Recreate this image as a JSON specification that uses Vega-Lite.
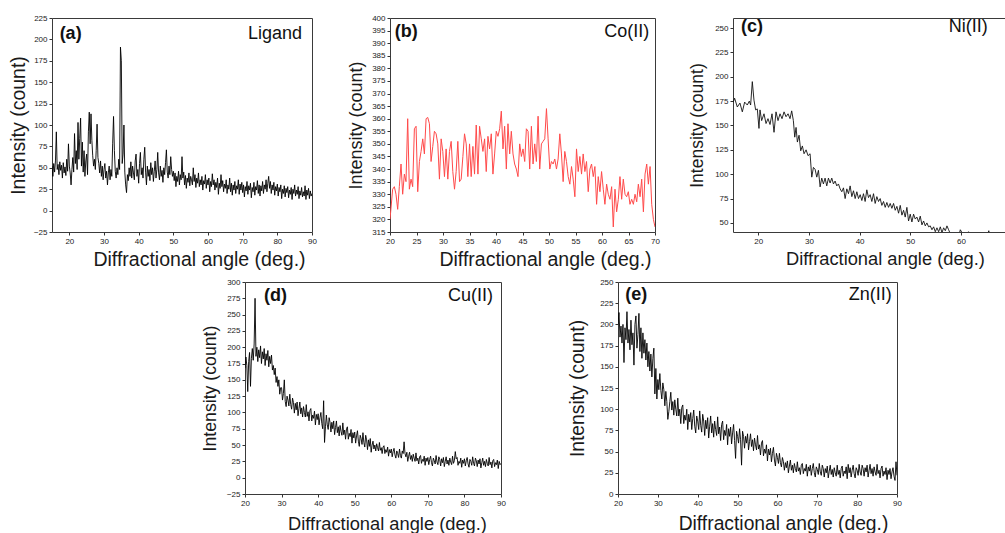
{
"$schema":"https://vega.github.io/schema/vega-lite/v6.json",
"background":"white",
"padding":{"left":7,"top":13,"right":0,"bottom":0},
"spacing":8,
"config":{
 "font":"Liberation Sans",
 "view":{"stroke":"#3a3a3a","strokeWidth":1},
 "axis":{"grid":false,"domain":false,"tickSize":3,"tickColor":"#333","tickWidth":1,"labelFontSize":8,"labelColor":"#222","labelPadding":2,"labelFlush":false,"labelOverlap":false,"labelBound":false,"titleFontWeight":"normal","titleColor":"#1a1a1a","titleFontSize":19},
 "axisX":{"titlePadding":5},
 "axisY":{"titlePadding":7},
 "text":{"fontSize":18,"color":"#111"}
},
"datasets":{
"ligand":[{"deg":15,"count":52},{"deg":15.25,"count":40},{"deg":15.5,"count":55},{"deg":15.75,"count":45},{"deg":16,"count":58},{"deg":16.25,"count":92},{"deg":16.5,"count":48},{"deg":16.75,"count":54},{"deg":17,"count":42},{"deg":17.25,"count":57},{"deg":17.5,"count":47},{"deg":17.75,"count":53},{"deg":18,"count":38},{"deg":18.25,"count":56},{"deg":18.5,"count":44},{"deg":18.75,"count":51},{"deg":19,"count":41},{"deg":19.25,"count":60},{"deg":19.5,"count":46},{"deg":19.75,"count":78},{"deg":20,"count":52},{"deg":20.25,"count":44},{"deg":20.5,"count":30},{"deg":20.75,"count":48},{"deg":21,"count":62},{"deg":21.25,"count":45},{"deg":21.5,"count":90},{"deg":21.75,"count":55},{"deg":22,"count":70},{"deg":22.25,"count":48},{"deg":22.5,"count":103},{"deg":22.75,"count":60},{"deg":23,"count":84},{"deg":23.25,"count":108},{"deg":23.5,"count":52},{"deg":23.75,"count":80},{"deg":24,"count":45},{"deg":24.25,"count":70},{"deg":24.5,"count":40},{"deg":24.75,"count":58},{"deg":25,"count":66},{"deg":25.25,"count":42},{"deg":25.5,"count":92},{"deg":25.75,"count":115},{"deg":26,"count":78},{"deg":26.25,"count":113},{"deg":26.5,"count":82},{"deg":26.75,"count":64},{"deg":27,"count":52},{"deg":27.25,"count":60},{"deg":27.5,"count":48},{"deg":27.75,"count":70},{"deg":28,"count":101},{"deg":28.25,"count":62},{"deg":28.5,"count":55},{"deg":28.75,"count":44},{"deg":29,"count":58},{"deg":29.25,"count":40},{"deg":29.5,"count":52},{"deg":29.75,"count":36},{"deg":30,"count":48},{"deg":30.25,"count":55},{"deg":30.5,"count":38},{"deg":30.75,"count":46},{"deg":31,"count":30},{"deg":31.25,"count":44},{"deg":31.5,"count":52},{"deg":31.75,"count":36},{"deg":32,"count":48},{"deg":32.25,"count":40},{"deg":32.5,"count":78},{"deg":32.75,"count":110},{"deg":33,"count":70},{"deg":33.25,"count":46},{"deg":33.5,"count":38},{"deg":33.75,"count":50},{"deg":34,"count":42},{"deg":34.25,"count":60},{"deg":34.5,"count":48},{"deg":34.75,"count":191},{"deg":35,"count":175},{"deg":35.25,"count":55},{"deg":35.5,"count":66},{"deg":35.75,"count":100},{"deg":36,"count":45},{"deg":36.25,"count":30},{"deg":36.5,"count":21},{"deg":36.75,"count":42},{"deg":37,"count":35},{"deg":37.25,"count":50},{"deg":37.5,"count":40},{"deg":37.75,"count":57},{"deg":38,"count":38},{"deg":38.25,"count":52},{"deg":38.5,"count":44},{"deg":38.75,"count":36},{"deg":39,"count":58},{"deg":39.25,"count":66},{"deg":39.5,"count":40},{"deg":39.75,"count":48},{"deg":40,"count":32},{"deg":40.25,"count":55},{"deg":40.5,"count":68},{"deg":40.75,"count":42},{"deg":41,"count":50},{"deg":41.25,"count":38},{"deg":41.5,"count":60},{"deg":41.75,"count":74},{"deg":42,"count":45},{"deg":42.25,"count":30},{"deg":42.5,"count":52},{"deg":42.75,"count":40},{"deg":43,"count":48},{"deg":43.25,"count":35},{"deg":43.5,"count":56},{"deg":43.75,"count":42},{"deg":44,"count":50},{"deg":44.25,"count":34},{"deg":44.5,"count":46},{"deg":44.75,"count":58},{"deg":45,"count":38},{"deg":45.25,"count":48},{"deg":45.5,"count":68},{"deg":45.75,"count":44},{"deg":46,"count":36},{"deg":46.25,"count":52},{"deg":46.5,"count":40},{"deg":46.75,"count":47},{"deg":47,"count":33},{"deg":47.25,"count":50},{"deg":47.5,"count":42},{"deg":47.75,"count":56},{"deg":48,"count":71},{"deg":48.25,"count":45},{"deg":48.5,"count":38},{"deg":48.75,"count":52},{"deg":49,"count":42},{"deg":49.25,"count":63},{"deg":49.5,"count":48},{"deg":49.75,"count":40},{"deg":50,"count":46},{"deg":50.25,"count":35},{"deg":50.5,"count":44},{"deg":50.75,"count":28},{"deg":51,"count":40},{"deg":51.25,"count":34},{"deg":51.5,"count":46},{"deg":51.75,"count":30},{"deg":52,"count":42},{"deg":52.25,"count":36},{"deg":52.5,"count":63},{"deg":52.75,"count":38},{"deg":53,"count":45},{"deg":53.25,"count":30},{"deg":53.5,"count":41},{"deg":53.75,"count":26},{"deg":54,"count":38},{"deg":54.25,"count":33},{"deg":54.5,"count":44},{"deg":54.75,"count":29},{"deg":55,"count":40},{"deg":55.25,"count":36},{"deg":55.5,"count":30},{"deg":55.75,"count":50},{"deg":56,"count":34},{"deg":56.25,"count":42},{"deg":56.5,"count":27},{"deg":56.75,"count":38},{"deg":57,"count":32},{"deg":57.25,"count":44},{"deg":57.5,"count":28},{"deg":57.75,"count":36},{"deg":58,"count":30},{"deg":58.25,"count":40},{"deg":58.5,"count":24},{"deg":58.75,"count":35},{"deg":59,"count":31},{"deg":59.25,"count":42},{"deg":59.5,"count":26},{"deg":59.75,"count":36},{"deg":60,"count":30},{"deg":60.25,"count":38},{"deg":60.5,"count":22},{"deg":60.75,"count":34},{"deg":61,"count":28},{"deg":61.25,"count":43},{"deg":61.5,"count":30},{"deg":61.75,"count":36},{"deg":62,"count":24},{"deg":62.25,"count":33},{"deg":62.5,"count":27},{"deg":62.75,"count":38},{"deg":63,"count":19},{"deg":63.25,"count":32},{"deg":63.5,"count":26},{"deg":63.75,"count":42},{"deg":64,"count":28},{"deg":64.25,"count":35},{"deg":64.5,"count":22},{"deg":64.75,"count":31},{"deg":65,"count":26},{"deg":65.25,"count":36},{"deg":65.5,"count":20},{"deg":65.75,"count":30},{"deg":66,"count":25},{"deg":66.25,"count":38},{"deg":66.5,"count":22},{"deg":66.75,"count":32},{"deg":67,"count":18},{"deg":67.25,"count":30},{"deg":67.5,"count":24},{"deg":67.75,"count":34},{"deg":68,"count":20},{"deg":68.25,"count":29},{"deg":68.5,"count":25},{"deg":68.75,"count":36},{"deg":69,"count":19},{"deg":69.25,"count":31},{"deg":69.5,"count":24},{"deg":69.75,"count":33},{"deg":70,"count":21},{"deg":70.25,"count":30},{"deg":70.5,"count":16},{"deg":70.75,"count":28},{"deg":71,"count":23},{"deg":71.25,"count":34},{"deg":71.5,"count":19},{"deg":71.75,"count":29},{"deg":72,"count":24},{"deg":72.25,"count":32},{"deg":72.5,"count":15},{"deg":72.75,"count":27},{"deg":73,"count":22},{"deg":73.25,"count":33},{"deg":73.5,"count":18},{"deg":73.75,"count":28},{"deg":74,"count":24},{"deg":74.25,"count":35},{"deg":74.5,"count":20},{"deg":74.75,"count":30},{"deg":75,"count":17},{"deg":75.25,"count":29},{"deg":75.5,"count":23},{"deg":75.75,"count":34},{"deg":76,"count":20},{"deg":76.25,"count":30},{"deg":76.5,"count":25},{"deg":76.75,"count":36},{"deg":77,"count":22},{"deg":77.25,"count":32},{"deg":77.5,"count":40},{"deg":77.75,"count":26},{"deg":78,"count":34},{"deg":78.25,"count":20},{"deg":78.5,"count":30},{"deg":78.75,"count":24},{"deg":79,"count":33},{"deg":79.25,"count":18},{"deg":79.5,"count":28},{"deg":79.75,"count":23},{"deg":80,"count":31},{"deg":80.25,"count":17},{"deg":80.5,"count":27},{"deg":80.75,"count":22},{"deg":81,"count":30},{"deg":81.25,"count":14},{"deg":81.5,"count":25},{"deg":81.75,"count":20},{"deg":82,"count":29},{"deg":82.25,"count":16},{"deg":82.5,"count":26},{"deg":82.75,"count":21},{"deg":83,"count":28},{"deg":83.25,"count":15},{"deg":83.5,"count":24},{"deg":83.75,"count":19},{"deg":84,"count":27},{"deg":84.25,"count":13},{"deg":84.5,"count":25},{"deg":84.75,"count":20},{"deg":85,"count":30},{"deg":85.25,"count":17},{"deg":85.5,"count":24},{"deg":85.75,"count":19},{"deg":86,"count":28},{"deg":86.25,"count":14},{"deg":86.5,"count":23},{"deg":86.75,"count":18},{"deg":87,"count":27},{"deg":87.25,"count":16},{"deg":87.5,"count":22},{"deg":87.75,"count":17},{"deg":88,"count":29},{"deg":88.25,"count":13},{"deg":88.5,"count":24},{"deg":88.75,"count":18},{"deg":89,"count":26},{"deg":89.25,"count":14},{"deg":89.5,"count":23},{"deg":89.75,"count":17},{"deg":90,"count":20}],
"co":[{"deg":20,"count":320},{"deg":20.5,"count":332},{"deg":20.82,"count":333},{"deg":21.13,"count":330},{"deg":21.45,"count":324},{"deg":21.76,"count":333},{"deg":22.08,"count":342},{"deg":22.39,"count":330},{"deg":22.71,"count":338},{"deg":23.02,"count":335},{"deg":23.34,"count":360},{"deg":23.65,"count":332},{"deg":23.97,"count":336},{"deg":24.28,"count":333},{"deg":24.6,"count":356},{"deg":24.92,"count":357},{"deg":25.23,"count":331},{"deg":25.55,"count":343},{"deg":25.86,"count":347},{"deg":26.18,"count":352},{"deg":26.49,"count":346},{"deg":26.81,"count":360},{"deg":27.12,"count":360.5},{"deg":27.44,"count":358},{"deg":27.75,"count":343},{"deg":28.07,"count":349},{"deg":28.38,"count":355},{"deg":28.7,"count":354},{"deg":29.02,"count":350},{"deg":29.33,"count":336},{"deg":29.65,"count":352},{"deg":29.96,"count":347},{"deg":30.28,"count":337},{"deg":30.59,"count":348},{"deg":30.91,"count":336},{"deg":31.22,"count":347},{"deg":31.54,"count":351},{"deg":31.85,"count":339},{"deg":32.17,"count":332},{"deg":32.48,"count":339},{"deg":32.8,"count":351},{"deg":33.12,"count":335},{"deg":33.43,"count":336},{"deg":33.75,"count":345},{"deg":34.06,"count":354},{"deg":34.38,"count":350},{"deg":34.69,"count":337},{"deg":35.01,"count":350},{"deg":35.32,"count":337},{"deg":35.64,"count":349},{"deg":35.95,"count":338},{"deg":36.27,"count":357.5},{"deg":36.59,"count":338},{"deg":36.9,"count":357},{"deg":37.22,"count":352},{"deg":37.53,"count":347},{"deg":37.85,"count":352},{"deg":38.16,"count":339},{"deg":38.48,"count":353},{"deg":38.79,"count":348},{"deg":39.11,"count":354},{"deg":39.42,"count":338},{"deg":39.74,"count":346},{"deg":40.05,"count":355},{"deg":40.37,"count":353},{"deg":40.69,"count":356},{"deg":41,"count":363},{"deg":41.32,"count":348},{"deg":41.63,"count":357},{"deg":41.95,"count":340},{"deg":42.26,"count":358},{"deg":42.58,"count":346},{"deg":42.89,"count":355},{"deg":43.21,"count":346},{"deg":43.52,"count":342},{"deg":43.84,"count":340},{"deg":44.15,"count":337},{"deg":44.47,"count":350},{"deg":44.79,"count":345},{"deg":45.1,"count":348},{"deg":45.42,"count":343},{"deg":45.73,"count":356},{"deg":46.05,"count":355},{"deg":46.36,"count":340},{"deg":46.68,"count":357},{"deg":46.99,"count":342},{"deg":47.31,"count":350},{"deg":47.62,"count":343},{"deg":47.94,"count":361},{"deg":48.25,"count":340},{"deg":48.57,"count":350},{"deg":48.88,"count":351},{"deg":49.2,"count":352},{"deg":49.52,"count":364},{"deg":49.83,"count":352},{"deg":50.15,"count":340},{"deg":50.46,"count":343},{"deg":50.78,"count":342},{"deg":51.09,"count":344},{"deg":51.41,"count":340},{"deg":51.72,"count":344},{"deg":52.04,"count":354},{"deg":52.35,"count":346},{"deg":52.67,"count":335},{"deg":52.98,"count":347},{"deg":53.3,"count":343},{"deg":53.62,"count":337},{"deg":53.93,"count":334},{"deg":54.25,"count":341},{"deg":54.56,"count":336},{"deg":54.88,"count":329},{"deg":55.19,"count":348},{"deg":55.51,"count":339},{"deg":55.82,"count":345},{"deg":56.14,"count":338},{"deg":56.45,"count":346},{"deg":56.77,"count":339},{"deg":57.08,"count":343},{"deg":57.4,"count":331},{"deg":57.72,"count":340},{"deg":58.03,"count":342},{"deg":58.35,"count":337},{"deg":58.66,"count":341},{"deg":58.98,"count":326},{"deg":59.29,"count":337},{"deg":59.61,"count":331},{"deg":59.92,"count":339},{"deg":60.24,"count":332},{"deg":60.55,"count":326},{"deg":60.87,"count":334},{"deg":61.18,"count":330},{"deg":61.5,"count":328},{"deg":61.82,"count":333},{"deg":62.13,"count":317},{"deg":62.45,"count":332},{"deg":62.76,"count":323},{"deg":63.08,"count":328},{"deg":63.39,"count":337},{"deg":63.71,"count":328},{"deg":64.02,"count":336},{"deg":64.34,"count":330},{"deg":64.65,"count":329},{"deg":64.97,"count":331},{"deg":65.28,"count":326},{"deg":65.6,"count":328},{"deg":65.92,"count":326},{"deg":66.23,"count":330},{"deg":66.55,"count":327},{"deg":66.86,"count":334},{"deg":67.18,"count":329},{"deg":67.49,"count":336},{"deg":67.81,"count":323},{"deg":68.12,"count":338},{"deg":68.44,"count":342},{"deg":68.75,"count":334},{"deg":69.07,"count":341},{"deg":69.38,"count":326},{"deg":69.7,"count":320},{"deg":70,"count":317}],
"ni":[{"deg":15.06,"count":174},{"deg":15.32,"count":178},{"deg":15.85,"count":169},{"deg":16.37,"count":173},{"deg":16.84,"count":164},{"deg":17.3,"count":174},{"deg":17.82,"count":171},{"deg":18.22,"count":175},{"deg":18.48,"count":171},{"deg":18.81,"count":195},{"deg":19.14,"count":176},{"deg":19.47,"count":166},{"deg":19.8,"count":167},{"deg":20.13,"count":147},{"deg":20.33,"count":166},{"deg":20.66,"count":155},{"deg":21.12,"count":162},{"deg":21.52,"count":152},{"deg":21.91,"count":157},{"deg":22.31,"count":151},{"deg":22.7,"count":162},{"deg":23.1,"count":143},{"deg":23.49,"count":164},{"deg":23.89,"count":155},{"deg":24.28,"count":162},{"deg":24.68,"count":157},{"deg":25.08,"count":164},{"deg":25.47,"count":159},{"deg":25.87,"count":162},{"deg":26.26,"count":157},{"deg":26.59,"count":165},{"deg":26.92,"count":155},{"deg":27.19,"count":138},{"deg":27.45,"count":148},{"deg":27.71,"count":133},{"deg":28.04,"count":140},{"deg":28.37,"count":124},{"deg":28.7,"count":129},{"deg":29.03,"count":121},{"deg":29.43,"count":125},{"deg":29.82,"count":119},{"deg":30.22,"count":121},{"deg":30.55,"count":97},{"deg":30.88,"count":107},{"deg":31.21,"count":105},{"deg":31.54,"count":97},{"deg":31.87,"count":104},{"deg":32.2,"count":87},{"deg":32.52,"count":96},{"deg":32.85,"count":90},{"deg":33.18,"count":96},{"deg":33.51,"count":88},{"deg":33.84,"count":96},{"deg":34.17,"count":91},{"deg":34.5,"count":96},{"deg":34.83,"count":90},{"deg":35.16,"count":93},{"deg":35.49,"count":88},{"deg":35.82,"count":90},{"deg":36.15,"count":85},{"deg":36.48,"count":82},{"deg":36.81,"count":86},{"deg":37.14,"count":75},{"deg":37.47,"count":85},{"deg":37.8,"count":80},{"deg":38.13,"count":88},{"deg":38.46,"count":77},{"deg":38.79,"count":83},{"deg":39.12,"count":75},{"deg":39.45,"count":82},{"deg":39.78,"count":75},{"deg":40.11,"count":79},{"deg":40.44,"count":73},{"deg":40.76,"count":80},{"deg":41.09,"count":72},{"deg":41.42,"count":84},{"deg":41.75,"count":76},{"deg":42.08,"count":79},{"deg":42.41,"count":72},{"deg":42.74,"count":80},{"deg":43.07,"count":70},{"deg":43.4,"count":77},{"deg":43.73,"count":72},{"deg":44.06,"count":75},{"deg":44.39,"count":68},{"deg":44.72,"count":72},{"deg":45.05,"count":66},{"deg":45.38,"count":71},{"deg":45.71,"count":66},{"deg":46.04,"count":70},{"deg":46.37,"count":65},{"deg":46.7,"count":70},{"deg":47.03,"count":63},{"deg":47.36,"count":67},{"deg":47.69,"count":60},{"deg":48.02,"count":68},{"deg":48.35,"count":58},{"deg":48.68,"count":63},{"deg":49,"count":56},{"deg":49.33,"count":66},{"deg":49.66,"count":52},{"deg":49.99,"count":59},{"deg":50.32,"count":51},{"deg":50.65,"count":59},{"deg":50.98,"count":54},{"deg":51.31,"count":56},{"deg":51.64,"count":51},{"deg":51.97,"count":57},{"deg":52.3,"count":48},{"deg":52.63,"count":52},{"deg":52.96,"count":47},{"deg":53.29,"count":50},{"deg":53.62,"count":46},{"deg":53.95,"count":47},{"deg":54.28,"count":43},{"deg":54.61,"count":46},{"deg":54.94,"count":41},{"deg":55.27,"count":45},{"deg":55.6,"count":41},{"deg":55.93,"count":46},{"deg":56.26,"count":40},{"deg":56.59,"count":45},{"deg":56.92,"count":42},{"deg":57.24,"count":47},{"deg":57.57,"count":43},{"deg":57.9,"count":39},{"deg":58.23,"count":36},{"deg":58.56,"count":40},{"deg":58.89,"count":35},{"deg":59.22,"count":38},{"deg":59.55,"count":36},{"deg":59.88,"count":43},{"deg":60.21,"count":40},{"deg":60.54,"count":36},{"deg":61,"count":37},{"deg":61.5,"count":41},{"deg":62,"count":35},{"deg":62.5,"count":38},{"deg":63,"count":33},{"deg":63.5,"count":36},{"deg":64,"count":32},{"deg":64.5,"count":37},{"deg":65,"count":34},{"deg":65.5,"count":42},{"deg":66,"count":33},{"deg":66.5,"count":36},{"deg":67,"count":31},{"deg":67.5,"count":35},{"deg":68,"count":30},{"deg":68.5,"count":33},{"deg":69,"count":32}],
"cu":[{"deg":20,"count":168},{"deg":20.25,"count":185},{"deg":20.5,"count":172},{"deg":20.75,"count":132},{"deg":21,"count":178},{"deg":21.25,"count":192},{"deg":21.5,"count":140},{"deg":21.75,"count":183},{"deg":22,"count":198},{"deg":22.25,"count":180},{"deg":22.5,"count":205},{"deg":22.75,"count":275},{"deg":23,"count":186},{"deg":23.25,"count":200},{"deg":23.5,"count":178},{"deg":23.75,"count":196},{"deg":24,"count":184},{"deg":24.25,"count":202},{"deg":24.5,"count":175},{"deg":24.75,"count":193},{"deg":25,"count":182},{"deg":25.25,"count":198},{"deg":25.5,"count":172},{"deg":25.75,"count":190},{"deg":26,"count":180},{"deg":26.25,"count":195},{"deg":26.5,"count":170},{"deg":26.75,"count":186},{"deg":27,"count":175},{"deg":27.25,"count":188},{"deg":27.5,"count":165},{"deg":27.75,"count":172},{"deg":28,"count":158},{"deg":28.25,"count":168},{"deg":28.5,"count":146},{"deg":28.75,"count":155},{"deg":29,"count":140},{"deg":29.25,"count":150},{"deg":29.5,"count":128},{"deg":29.75,"count":138},{"deg":30,"count":138},{"deg":30.25,"count":119},{"deg":30.5,"count":129},{"deg":30.75,"count":150},{"deg":31,"count":117},{"deg":31.25,"count":109},{"deg":31.5,"count":125},{"deg":31.75,"count":119},{"deg":32,"count":110},{"deg":32.25,"count":128},{"deg":32.5,"count":112},{"deg":32.75,"count":105},{"deg":33,"count":122},{"deg":33.25,"count":115},{"deg":33.5,"count":99},{"deg":33.75,"count":114},{"deg":34,"count":104},{"deg":34.25,"count":116},{"deg":34.5,"count":95},{"deg":34.75,"count":106},{"deg":35,"count":116},{"deg":35.25,"count":98},{"deg":35.5,"count":107},{"deg":35.75,"count":93},{"deg":36,"count":109},{"deg":36.25,"count":100},{"deg":36.5,"count":93},{"deg":36.75,"count":112},{"deg":37,"count":94},{"deg":37.25,"count":101},{"deg":37.5,"count":87},{"deg":37.75,"count":103},{"deg":38,"count":106},{"deg":38.25,"count":87},{"deg":38.5,"count":96},{"deg":38.75,"count":91},{"deg":39,"count":102},{"deg":39.25,"count":81},{"deg":39.5,"count":97},{"deg":39.75,"count":89},{"deg":40,"count":98},{"deg":40.25,"count":81},{"deg":40.5,"count":92},{"deg":40.75,"count":100},{"deg":41,"count":83},{"deg":41.25,"count":75},{"deg":41.5,"count":118},{"deg":41.75,"count":54},{"deg":42,"count":78},{"deg":42.25,"count":96},{"deg":42.5,"count":81},{"deg":42.75,"count":74},{"deg":43,"count":92},{"deg":43.25,"count":85},{"deg":43.5,"count":70},{"deg":43.75,"count":85},{"deg":44,"count":75},{"deg":44.25,"count":87},{"deg":44.5,"count":66},{"deg":44.75,"count":77},{"deg":45,"count":87},{"deg":45.25,"count":69},{"deg":45.5,"count":78},{"deg":45.75,"count":64},{"deg":46,"count":80},{"deg":46.25,"count":71},{"deg":46.5,"count":65},{"deg":46.75,"count":84},{"deg":47,"count":66},{"deg":47.25,"count":73},{"deg":47.5,"count":59},{"deg":47.75,"count":75},{"deg":48,"count":78},{"deg":48.25,"count":59},{"deg":48.5,"count":68},{"deg":48.75,"count":63},{"deg":49,"count":74},{"deg":49.25,"count":53},{"deg":49.5,"count":69},{"deg":49.75,"count":61},{"deg":50,"count":70},{"deg":50.25,"count":53},{"deg":50.5,"count":64},{"deg":50.75,"count":72},{"deg":51,"count":56},{"deg":51.25,"count":48},{"deg":51.5,"count":65},{"deg":51.75,"count":60},{"deg":52,"count":51},{"deg":52.25,"count":69},{"deg":52.5,"count":54},{"deg":52.75,"count":47},{"deg":53,"count":65},{"deg":53.25,"count":58},{"deg":53.5,"count":43},{"deg":53.75,"count":58},{"deg":54,"count":48},{"deg":54.25,"count":60},{"deg":54.5,"count":39},{"deg":54.75,"count":50},{"deg":55,"count":56},{"deg":55.25,"count":44},{"deg":55.5,"count":50},{"deg":55.75,"count":41},{"deg":56,"count":52},{"deg":56.25,"count":46},{"deg":56.5,"count":41},{"deg":56.75,"count":54},{"deg":57,"count":42},{"deg":57.25,"count":46},{"deg":57.5,"count":37},{"deg":57.75,"count":47},{"deg":58,"count":49},{"deg":58.25,"count":37},{"deg":58.5,"count":43},{"deg":58.75,"count":39},{"deg":59,"count":47},{"deg":59.25,"count":33},{"deg":59.5,"count":43},{"deg":59.75,"count":38},{"deg":60,"count":44},{"deg":60.25,"count":32},{"deg":60.5,"count":40},{"deg":60.75,"count":45},{"deg":61,"count":35},{"deg":61.25,"count":30},{"deg":61.5,"count":41},{"deg":61.75,"count":37},{"deg":62,"count":31},{"deg":62.25,"count":44},{"deg":62.5,"count":34},{"deg":62.75,"count":30},{"deg":63,"count":41},{"deg":63.25,"count":37},{"deg":63.5,"count":55},{"deg":63.75,"count":37},{"deg":64,"count":32},{"deg":64.25,"count":39},{"deg":64.5,"count":25},{"deg":64.75,"count":33},{"deg":65,"count":39},{"deg":65.25,"count":28},{"deg":65.5,"count":34},{"deg":65.75,"count":25},{"deg":66,"count":36},{"deg":66.25,"count":30},{"deg":66.5,"count":25},{"deg":66.75,"count":38},{"deg":67,"count":26},{"deg":67.25,"count":30},{"deg":67.5,"count":21},{"deg":67.75,"count":32},{"deg":68,"count":34},{"deg":68.25,"count":22},{"deg":68.5,"count":28},{"deg":68.75,"count":25},{"deg":69,"count":33},{"deg":69.25,"count":19},{"deg":69.5,"count":30},{"deg":69.75,"count":25},{"deg":70,"count":31},{"deg":70.25,"count":20},{"deg":70.5,"count":28},{"deg":70.75,"count":33},{"deg":71,"count":23},{"deg":71.25,"count":18},{"deg":71.5,"count":30},{"deg":71.75,"count":26},{"deg":72,"count":21},{"deg":72.25,"count":34},{"deg":72.5,"count":24},{"deg":72.75,"count":20},{"deg":73,"count":32},{"deg":73.25,"count":28},{"deg":73.5,"count":18},{"deg":73.75,"count":29},{"deg":74,"count":23},{"deg":74.25,"count":31},{"deg":74.5,"count":17},{"deg":74.75,"count":25},{"deg":75,"count":32},{"deg":75.25,"count":21},{"deg":75.5,"count":27},{"deg":75.75,"count":19},{"deg":76,"count":30},{"deg":76.25,"count":24},{"deg":76.5,"count":20},{"deg":76.75,"count":33},{"deg":77,"count":22},{"deg":77.25,"count":26},{"deg":77.5,"count":40},{"deg":77.75,"count":29},{"deg":78,"count":31},{"deg":78.25,"count":19},{"deg":78.5,"count":25},{"deg":78.75,"count":22},{"deg":79,"count":30},{"deg":79.25,"count":16},{"deg":79.5,"count":27},{"deg":79.75,"count":22},{"deg":80,"count":29},{"deg":80.25,"count":18},{"deg":80.5,"count":26},{"deg":80.75,"count":31},{"deg":81,"count":21},{"deg":81.25,"count":16},{"deg":81.5,"count":28},{"deg":81.75,"count":25},{"deg":82,"count":19},{"deg":82.25,"count":32},{"deg":82.5,"count":22},{"deg":82.75,"count":18},{"deg":83,"count":30},{"deg":83.25,"count":26},{"deg":83.5,"count":17},{"deg":83.75,"count":27},{"deg":84,"count":21},{"deg":84.25,"count":29},{"deg":84.5,"count":15},{"deg":84.75,"count":23},{"deg":85,"count":30},{"deg":85.25,"count":19},{"deg":85.5,"count":25},{"deg":85.75,"count":17},{"deg":86,"count":28},{"deg":86.25,"count":22},{"deg":86.5,"count":18},{"deg":86.75,"count":31},{"deg":87,"count":20},{"deg":87.25,"count":24},{"deg":87.5,"count":15},{"deg":87.75,"count":26},{"deg":88,"count":28},{"deg":88.25,"count":17},{"deg":88.5,"count":23},{"deg":88.75,"count":20},{"deg":89,"count":27},{"deg":89.25,"count":14},{"deg":89.5,"count":25},{"deg":89.75,"count":20},{"deg":90,"count":22}],
"zn":[{"deg":20,"count":200},{"deg":20.25,"count":214},{"deg":20.5,"count":185},{"deg":20.75,"count":198},{"deg":21,"count":178},{"deg":21.25,"count":200},{"deg":21.5,"count":155},{"deg":21.75,"count":196},{"deg":22,"count":182},{"deg":22.25,"count":215},{"deg":22.5,"count":178},{"deg":22.75,"count":194},{"deg":23,"count":170},{"deg":23.25,"count":205},{"deg":23.5,"count":176},{"deg":23.75,"count":190},{"deg":24,"count":152},{"deg":24.25,"count":200},{"deg":24.5,"count":210},{"deg":24.75,"count":172},{"deg":25,"count":188},{"deg":25.25,"count":213},{"deg":25.5,"count":168},{"deg":25.75,"count":196},{"deg":26,"count":160},{"deg":26.25,"count":190},{"deg":26.5,"count":166},{"deg":26.75,"count":182},{"deg":27,"count":158},{"deg":27.25,"count":178},{"deg":27.5,"count":150},{"deg":27.75,"count":168},{"deg":28,"count":145},{"deg":28.25,"count":165},{"deg":28.5,"count":138},{"deg":28.75,"count":160},{"deg":29,"count":172},{"deg":29.25,"count":118},{"deg":29.5,"count":148},{"deg":29.75,"count":112},{"deg":30,"count":135},{"deg":30.25,"count":123},{"deg":30.5,"count":142},{"deg":30.75,"count":122},{"deg":31,"count":112},{"deg":31.25,"count":131},{"deg":31.5,"count":123},{"deg":31.75,"count":104},{"deg":32,"count":121},{"deg":32.25,"count":109},{"deg":32.5,"count":88},{"deg":32.75,"count":97},{"deg":33,"count":109},{"deg":33.25,"count":120},{"deg":33.5,"count":99},{"deg":33.75,"count":109},{"deg":34,"count":93},{"deg":34.25,"count":111},{"deg":34.5,"count":100},{"deg":34.75,"count":92},{"deg":35,"count":113},{"deg":35.25,"count":92},{"deg":35.5,"count":100},{"deg":35.75,"count":83},{"deg":36,"count":102},{"deg":36.25,"count":105},{"deg":36.5,"count":83},{"deg":36.75,"count":93},{"deg":37,"count":87},{"deg":37.25,"count":100},{"deg":37.5,"count":76},{"deg":37.75,"count":94},{"deg":38,"count":85},{"deg":38.25,"count":96},{"deg":38.5,"count":76},{"deg":38.75,"count":89},{"deg":39,"count":99},{"deg":39.25,"count":80},{"deg":39.5,"count":72},{"deg":39.75,"count":92},{"deg":40,"count":86},{"deg":40.25,"count":76},{"deg":40.5,"count":98},{"deg":40.75,"count":81},{"deg":41,"count":73},{"deg":41.25,"count":94},{"deg":41.5,"count":86},{"deg":41.75,"count":69},{"deg":42,"count":87},{"deg":42.25,"count":77},{"deg":42.5,"count":90},{"deg":42.75,"count":66},{"deg":43,"count":80},{"deg":43.25,"count":92},{"deg":43.5,"count":72},{"deg":43.75,"count":83},{"deg":44,"count":67},{"deg":44.25,"count":86},{"deg":44.5,"count":76},{"deg":44.75,"count":69},{"deg":45,"count":91},{"deg":45.25,"count":71},{"deg":45.5,"count":79},{"deg":45.75,"count":63},{"deg":46,"count":82},{"deg":46.25,"count":86},{"deg":46.5,"count":64},{"deg":46.75,"count":75},{"deg":47,"count":69},{"deg":47.25,"count":82},{"deg":47.5,"count":58},{"deg":47.75,"count":77},{"deg":48,"count":68},{"deg":48.25,"count":79},{"deg":48.5,"count":59},{"deg":48.75,"count":72},{"deg":49,"count":82},{"deg":49.25,"count":63},{"deg":49.5,"count":42},{"deg":49.75,"count":74},{"deg":50,"count":68},{"deg":50.25,"count":60},{"deg":50.5,"count":77},{"deg":50.75,"count":64},{"deg":51,"count":34},{"deg":51.25,"count":74},{"deg":51.5,"count":68},{"deg":51.75,"count":54},{"deg":52,"count":68},{"deg":52.25,"count":60},{"deg":52.5,"count":71},{"deg":52.75,"count":52},{"deg":53,"count":62},{"deg":53.25,"count":71},{"deg":53.5,"count":56},{"deg":53.75,"count":64},{"deg":54,"count":51},{"deg":54.25,"count":66},{"deg":54.5,"count":58},{"deg":54.75,"count":52},{"deg":55,"count":69},{"deg":55.25,"count":53},{"deg":55.5,"count":58},{"deg":55.75,"count":46},{"deg":56,"count":60},{"deg":56.25,"count":63},{"deg":56.5,"count":45},{"deg":56.75,"count":53},{"deg":57,"count":48},{"deg":57.25,"count":58},{"deg":57.5,"count":39},{"deg":57.75,"count":53},{"deg":58,"count":46},{"deg":58.25,"count":54},{"deg":58.5,"count":38},{"deg":58.75,"count":48},{"deg":59,"count":55},{"deg":59.25,"count":40},{"deg":59.5,"count":33},{"deg":59.75,"count":48},{"deg":60,"count":43},{"deg":60.25,"count":36},{"deg":60.5,"count":48},{"deg":60.75,"count":37},{"deg":61,"count":32},{"deg":61.25,"count":43},{"deg":61.5,"count":38},{"deg":61.75,"count":28},{"deg":62,"count":37},{"deg":62.25,"count":31},{"deg":62.5,"count":39},{"deg":62.75,"count":25},{"deg":63,"count":33},{"deg":63.25,"count":40},{"deg":63.5,"count":28},{"deg":63.75,"count":34},{"deg":64,"count":25},{"deg":64.25,"count":36},{"deg":64.5,"count":30},{"deg":64.75,"count":26},{"deg":65,"count":38},{"deg":65.25,"count":27},{"deg":65.5,"count":31},{"deg":65.75,"count":23},{"deg":66,"count":34},{"deg":66.25,"count":36},{"deg":66.5,"count":24},{"deg":66.75,"count":30},{"deg":67,"count":27},{"deg":67.25,"count":35},{"deg":67.5,"count":21},{"deg":67.75,"count":32},{"deg":68,"count":27},{"deg":68.25,"count":34},{"deg":68.5,"count":22},{"deg":68.75,"count":30},{"deg":69,"count":36},{"deg":69.25,"count":25},{"deg":69.5,"count":20},{"deg":69.75,"count":32},{"deg":70,"count":29},{"deg":70.25,"count":23},{"deg":70.5,"count":36},{"deg":70.75,"count":26},{"deg":71,"count":22},{"deg":71.25,"count":34},{"deg":71.5,"count":30},{"deg":71.75,"count":20},{"deg":72,"count":30},{"deg":72.25,"count":25},{"deg":72.5,"count":33},{"deg":72.75,"count":19},{"deg":73,"count":27},{"deg":73.25,"count":34},{"deg":73.5,"count":23},{"deg":73.75,"count":29},{"deg":74,"count":20},{"deg":74.25,"count":31},{"deg":74.5,"count":25},{"deg":74.75,"count":21},{"deg":75,"count":34},{"deg":75.25,"count":23},{"deg":75.5,"count":28},{"deg":75.75,"count":19},{"deg":76,"count":30},{"deg":76.25,"count":33},{"deg":76.5,"count":21},{"deg":76.75,"count":27},{"deg":77,"count":24},{"deg":77.25,"count":32},{"deg":77.5,"count":18},{"deg":77.75,"count":35},{"deg":78,"count":25},{"deg":78.25,"count":31},{"deg":78.5,"count":20},{"deg":78.75,"count":28},{"deg":79,"count":34},{"deg":79.25,"count":24},{"deg":79.5,"count":19},{"deg":79.75,"count":31},{"deg":80,"count":28},{"deg":80.25,"count":22},{"deg":80.5,"count":35},{"deg":80.75,"count":26},{"deg":81,"count":22},{"deg":81.25,"count":34},{"deg":81.5,"count":30},{"deg":81.75,"count":21},{"deg":82,"count":31},{"deg":82.25,"count":26},{"deg":82.5,"count":34},{"deg":82.75,"count":20},{"deg":83,"count":28},{"deg":83.25,"count":35},{"deg":83.5,"count":24},{"deg":83.75,"count":30},{"deg":84,"count":21},{"deg":84.25,"count":32},{"deg":84.5,"count":26},{"deg":84.75,"count":22},{"deg":85,"count":35},{"deg":85.25,"count":24},{"deg":85.5,"count":28},{"deg":85.75,"count":19},{"deg":86,"count":30},{"deg":86.25,"count":33},{"deg":86.5,"count":21},{"deg":86.75,"count":27},{"deg":87,"count":23},{"deg":87.25,"count":31},{"deg":87.5,"count":17},{"deg":87.75,"count":28},{"deg":88,"count":23},{"deg":88.25,"count":30},{"deg":88.5,"count":18},{"deg":88.75,"count":26},{"deg":89,"count":31},{"deg":89.25,"count":21},{"deg":89.5,"count":16},{"deg":89.75,"count":38},{"deg":90,"count":22}]
},
"vconcat":[
 {"hconcat":[
  {"width":260,"height":214,"resolve":{"scale":{"x":"independent","y":"independent"},"axis":{"x":"independent","y":"independent"}},"layer":[
   {"data":{"name":"ligand"},"mark":{"type":"line","color":"#000","strokeWidth":0.9,"clip":true},
    "encoding":{
     "x":{"field":"deg","type":"quantitative","scale":{"domain":[15,90],"nice":false,"zero":false},"axis":{"values":[20,30,40,50,60,70,80,90],"labelOverlap":false,"title":"Diffractional angle (deg.)","titleFontSize":19.5,"titleX":147}},
     "y":{"field":"count","type":"quantitative","scale":{"domain":[-25,225],"nice":false,"zero":false},"axis":{"values":[-25,0,25,50,75,100,125,150,175,200,225],"labelOverlap":false,"title":"Intensity (count)","titleFontSize":19.5,"titlePadding":5}}}},
   {"data":{"values":[{}]},"mark":{"type":"text","align":"left","baseline":"middle","fontWeight":"bold"},"encoding":{"x":{"datum":17.2,"type":"quantitative","scale":{"domain":[15,90]},"axis":null},"y":{"datum":206,"type":"quantitative","scale":{"domain":[-25,225]},"axis":null},"text":{"value":"(a)"}}},
   {"data":{"values":[{}]},"mark":{"type":"text","align":"right","baseline":"middle"},"encoding":{"x":{"datum":87.1,"type":"quantitative","scale":{"domain":[15,90]},"axis":null},"y":{"datum":206,"type":"quantitative","scale":{"domain":[-25,225]},"axis":null},"text":{"value":"Ligand"}}}
  ]},
  {"width":265,"height":214,"resolve":{"scale":{"x":"independent","y":"independent"},"axis":{"x":"independent","y":"independent"}},"layer":[
   {"data":{"name":"co"},"mark":{"type":"line","color":"#ff4a4a","strokeWidth":1,"clip":true},
    "encoding":{
     "x":{"field":"deg","type":"quantitative","scale":{"domain":[20,70],"nice":false,"zero":false},"axis":{"values":[20,25,30,35,40,45,50,55,60,65,70],"labelOverlap":false,"title":"Diffractional angle (deg.)","titleFontSize":19.5,"titleX":155}},
     "y":{"field":"count","type":"quantitative","scale":{"domain":[315,400],"nice":false,"zero":false},"axis":{"values":[315,320,325,330,335,340,345,350,355,360,365,370,375,380,385,390,395,400],"labelOverlap":false,"title":"Intensity (count)","titleFontSize":18,"titlePadding":6}}}},
   {"data":{"values":[{}]},"mark":{"type":"text","align":"left","baseline":"middle","fontWeight":"bold"},"encoding":{"x":{"datum":20.9,"type":"quantitative","scale":{"domain":[20,70]},"axis":null},"y":{"datum":394.5,"type":"quantitative","scale":{"domain":[315,400],"zero":false},"axis":null},"text":{"value":"(b)"}}},
   {"data":{"values":[{}]},"mark":{"type":"text","align":"right","baseline":"middle"},"encoding":{"x":{"datum":68.9,"type":"quantitative","scale":{"domain":[20,70]},"axis":null},"y":{"datum":394.5,"type":"quantitative","scale":{"domain":[315,400],"zero":false},"axis":null},"text":{"value":"Co(II)"}}}
  ]},
  {"width":273,"height":214,"resolve":{"scale":{"x":"independent","y":"independent"},"axis":{"x":"independent","y":"independent"}},"layer":[
   {"data":{"name":"ni"},"mark":{"type":"line","color":"#111","strokeWidth":0.9,"clip":true},
    "encoding":{
     "x":{"field":"deg","type":"quantitative","scale":{"domain":[15,68.9],"nice":false,"zero":false},"axis":{"values":[20,30,40,50,60],"labelOverlap":false,"title":"Diffractional angle (deg.)","titleFontSize":18.3,"titleX":152}},
     "y":{"field":"count","type":"quantitative","scale":{"domain":[40.7,260.3],"nice":false,"zero":false},"axis":{"values":[50,75,100,125,150,175,200,225,250],"labelOverlap":false,"title":"Intensity (count)","titleFontSize":17.5,"titlePadding":8}}}},
   {"data":{"values":[{}]},"mark":{"type":"text","align":"left","baseline":"middle","fontWeight":"bold"},"encoding":{"x":{"datum":16.6,"type":"quantitative","scale":{"domain":[15,68.9]},"axis":null},"y":{"datum":251,"type":"quantitative","scale":{"domain":[40.7,260.3]},"axis":null},"text":{"value":"(c)"}}},
   {"data":{"values":[{}]},"mark":{"type":"text","align":"right","baseline":"middle"},"encoding":{"x":{"datum":65.3,"type":"quantitative","scale":{"domain":[15,68.9]},"axis":null},"y":{"datum":251,"type":"quantitative","scale":{"domain":[40.7,260.3]},"axis":null},"text":{"value":"Ni(II)"}}}
  ]}
 ],"spacing":78,"bounds":"flush"},
 {"hconcat":[
  {"width":76,"height":212,"view":{"stroke":null},"data":{"values":[{}]},"mark":{"type":"point","opacity":0}},
  {"width":256,"height":212,"resolve":{"scale":{"x":"independent","y":"independent"},"axis":{"x":"independent","y":"independent"}},"layer":[
   {"data":{"name":"cu"},"mark":{"type":"line","color":"#000","strokeWidth":0.9,"clip":true},
    "encoding":{
     "x":{"field":"deg","type":"quantitative","scale":{"domain":[20,90],"nice":false,"zero":false},"axis":{"values":[20,30,40,50,60,70,80,90],"labelOverlap":false,"title":"Diffractional angle (deg.)","titleFontSize":18.3,"titleX":142,"titlePadding":8}},
     "y":{"field":"count","type":"quantitative","scale":{"domain":[-25,300],"nice":false,"zero":false},"axis":{"values":[-25,0,25,50,75,100,125,150,175,200,225,250,275,300],"labelOverlap":false,"title":"Intensity (count)","titleFontSize":17.7,"titlePadding":7}}}},
   {"data":{"values":[{}]},"mark":{"type":"text","align":"left","baseline":"middle","fontWeight":"bold"},"encoding":{"x":{"datum":25.2,"type":"quantitative","scale":{"domain":[20,90]},"axis":null},"y":{"datum":279,"type":"quantitative","scale":{"domain":[-25,300]},"axis":null},"text":{"value":"(d)"}}},
   {"data":{"values":[{}]},"mark":{"type":"text","align":"right","baseline":"middle"},"encoding":{"x":{"datum":87.8,"type":"quantitative","scale":{"domain":[20,90]},"axis":null},"y":{"datum":279,"type":"quantitative","scale":{"domain":[-25,300]},"axis":null},"text":{"value":"Cu(II)"}}}
  ]},
  {"width":279,"height":212,"resolve":{"scale":{"x":"independent","y":"independent"},"axis":{"x":"independent","y":"independent"}},"layer":[
   {"data":{"name":"zn"},"mark":{"type":"line","color":"#000","strokeWidth":0.9,"clip":true},
    "encoding":{
     "x":{"field":"deg","type":"quantitative","scale":{"domain":[20,90],"nice":false,"zero":false},"axis":{"values":[20,30,40,50,60,70,80,90],"labelOverlap":false,"title":"Diffractional angle (deg.)","titleFontSize":19.3,"titleX":165,"titlePadding":7}},
     "y":{"field":"count","type":"quantitative","scale":{"domain":[0,250],"nice":false,"zero":false},"axis":{"values":[0,25,50,75,100,125,150,175,200,225,250],"labelOverlap":false,"title":"Intensity (count)","titleFontSize":19.3,"titlePadding":12}}}},
   {"data":{"values":[{}]},"mark":{"type":"text","align":"left","baseline":"middle","fontWeight":"bold"},"encoding":{"x":{"datum":21.8,"type":"quantitative","scale":{"domain":[20,90]},"axis":null},"y":{"datum":235,"type":"quantitative","scale":{"domain":[0,250]},"axis":null},"text":{"value":"(e)"}}},
   {"data":{"values":[{}]},"mark":{"type":"text","align":"right","baseline":"middle"},"encoding":{"x":{"datum":88.7,"type":"quantitative","scale":{"domain":[20,90]},"axis":null},"y":{"datum":235,"type":"quantitative","scale":{"domain":[0,250]},"axis":null},"text":{"value":"Zn(II)"}}}
  ]}
 ],"spacing":117,"bounds":"flush"}
]
}
